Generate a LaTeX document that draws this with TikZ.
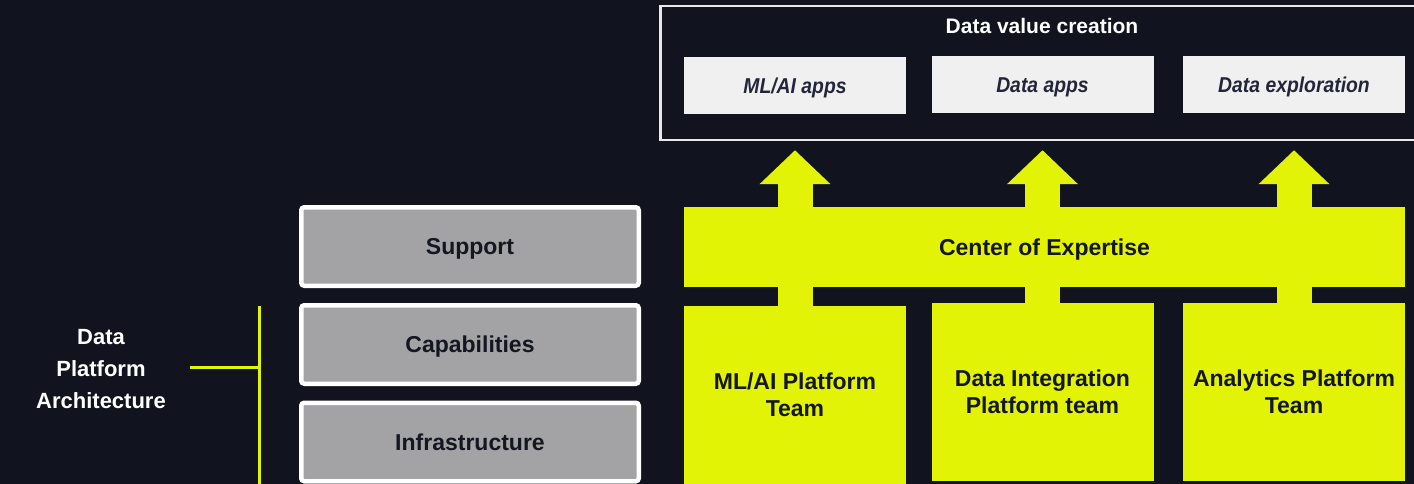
\documentclass[tikz,border=0pt]{standalone}
\usepackage{fontspec}
\setmainfont{Liberation Sans}
\newfontfamily\condital[FakeStretch=0.9]{Liberation Sans}
\usetikzlibrary{arrows.meta,calc}
\definecolor{bg}{HTML}{11141F}
\definecolor{lime}{HTML}{E2F306}
\definecolor{grayfill}{HTML}{A3A3A6}
\definecolor{appfill}{HTML}{F0F0F0}
\definecolor{darktxt}{HTML}{141620}
\definecolor{apptxt}{HTML}{23263A}
\definecolor{frame}{HTML}{E8E8EC}
\tikzset{
  txt/.style={font=\fontsize{23}{27}\selectfont\bfseries, align=center},
  oneline/.style={text height=16.5pt, text depth=0pt},
  graybox/.style={txt, oneline, fill=grayfill, draw=white, line width=4.5pt, rounded corners=3pt,
    minimum width=337.5pt, minimum height=78.5pt, inner sep=0pt, text=darktxt},
  teambox/.style={txt, fill=lime, minimum width=222pt, minimum height=178pt, inner sep=0pt, text=darktxt},
  appbox/.style={fill=appfill, minimum width=222pt, minimum height=57pt, inner sep=0pt, text=apptxt,
    text height=15.5pt, text depth=0pt,
    font=\condital\fontsize{21.5}{25}\selectfont\bfseries\itshape},
  blockarrow/.style={draw=lime, line width=35pt, -{Triangle[width=69pt,length=34pt]}, fill=lime},
  bracket/.style={draw=lime, line width=3pt},
}
\begin{document}
\begin{tikzpicture}[x=1pt,y=-1pt]
\fill[bg] (0,0) rectangle (1414,484);
\useasboundingbox (0,0) rectangle (1414,484);
% top frame
\node[draw=frame, line width=2.5pt, minimum width=770pt, minimum height=134pt, inner sep=0pt, anchor=north west] (frameDVC) at (659,5) {};
\node[txt, text=white, font=\fontsize{21}{25}\selectfont\bfseries, text height=15pt, text depth=0pt] (dvc) at (1042,26) {Data value creation};
\node[appbox] (app1) at (795,85.5) {ML/AI apps};
\node[appbox] (app2) at (1042.5,84.5) {Data apps};
\node[appbox] (app3) at (1294,84.5) {Data exploration};
% team boxes
\node[teambox] (team1) at (795,395) {ML/AI Platform\\Team};
\node[teambox] (team2) at (1042.5,392) {Data Integration\\Platform team};
\node[teambox] (team3) at (1294,392) {Analytics Platform\\Team};
% arrows
\coordinate (tip1) at ($(app1.south)+(0,36)$);
\coordinate (tip2) at ($(app2.south)+(0,37)$);
\coordinate (tip3) at ($(app3.south)+(0,37)$);
\draw[blockarrow] (team1.north) -- (team1.north |- tip1);
\draw[blockarrow] (team2.north) -- (team2.north |- tip2);
\draw[blockarrow] (team3.north) -- (team3.north |- tip3);
% center of expertise
\node[txt, oneline, fill=lime, text=darktxt, minimum width=721pt, minimum height=80pt, inner sep=0pt] (coe) at (1044.5,247) {Center of Expertise};
% left stack
\node[graybox] (support) at (470,246.5) {Support};
\node[graybox] (cap) at (470,344.5) {Capabilities};
\node[graybox] (infra) at (470,442) {Infrastructure};
% bracket
\coordinate (brtop) at (259,306);
\coordinate (brbot) at (259,486);
\coordinate (brmid) at (259,367);
\node[txt, text=white, font=\fontsize{22}{32}\selectfont\bfseries] (dpa) at (101,369) {Data\\Platform\\Architecture};
\draw[bracket] (brtop) -- (brbot);
\draw[bracket] (brmid) -- ($(brmid)+(-69,0)$) coordinate (brend);
\end{tikzpicture}
\end{document}
